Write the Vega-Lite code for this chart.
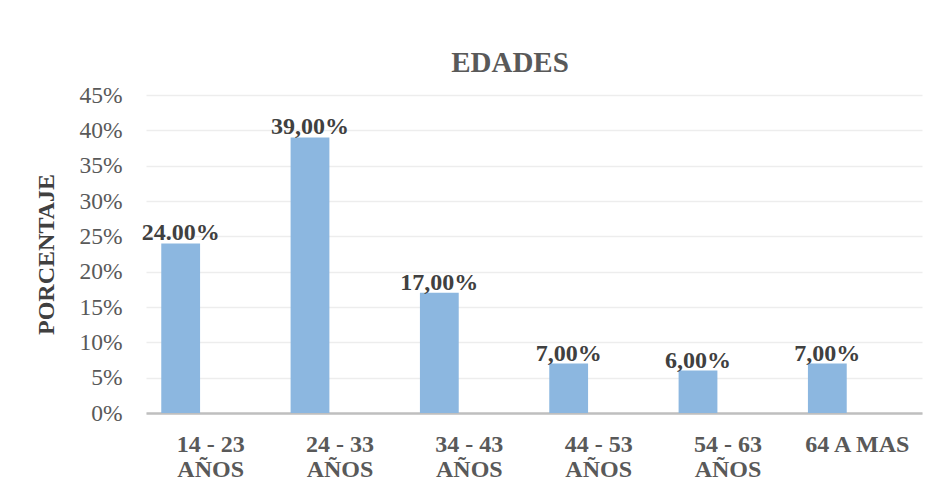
{
  "$schema": "https://vega.github.io/schema/vega-lite/v6.json",
  "width": 776,
  "height": 318,
  "autosize": {"type": "none"},
  "padding": {"left": 146, "top": 95, "right": 14, "bottom": 88},
  "background": "white",
  "config": {"view": {"stroke": null}, "font": "Liberation Serif"},
  "title": {
    "text": "EDADES",
    "font": "Liberation Serif",
    "fontSize": 29,
    "fontWeight": "bold",
    "color": "#595959",
    "anchor": "middle",
    "dx": -24,
    "offset": 5
  },
  "data": {
    "values": [
      {"grupo": "14 - 23 AÑOS", "pct": 24, "etiqueta": "24.00%"},
      {"grupo": "24 - 33 AÑOS", "pct": 39, "etiqueta": "39,00%"},
      {"grupo": "34 - 43 AÑOS", "pct": 17, "etiqueta": "17,00%"},
      {"grupo": "44 - 53 AÑOS", "pct": 7, "etiqueta": "7,00%"},
      {"grupo": "54 - 63 AÑOS", "pct": 6, "etiqueta": "6,00%"},
      {"grupo": "64 A MAS", "pct": 7, "etiqueta": "7,00%"}
    ]
  },
  "encoding": {
    "x": {
      "field": "grupo",
      "type": "nominal",
      "sort": null,
      "scale": {"paddingInner": 0, "paddingOuter": 0},
      "axis": {
        "title": null,
        "labelAngle": 0,
        "labelFont": "Liberation Serif",
        "labelFontSize": 24,
        "labelFontWeight": "bold",
        "labelColor": "#595959",
        "labelPadding": 19,
        "labelLineHeight": 25,
        "labelBaseline": "top",
        "labelExpr": "indexof(datum.label,'AÑOS')>0 ? [replace(datum.label,' AÑOS',''),'AÑOS'] : datum.label",
        "ticks": false,
        "domainColor": "#bfbfbf",
        "domainWidth": 2.5,
        "grid": false
      }
    },
    "y": {
      "field": "pct",
      "type": "quantitative",
      "scale": {"domain": [0, 45]},
      "axis": {
        "title": "PORCENTAJE",
        "titleFont": "Liberation Serif",
        "titleFontSize": 24,
        "titleFontWeight": "bold",
        "titleColor": "#404040",
        "titlePadding": 20,
        "values": [0, 5, 10, 15, 20, 25, 30, 35, 40, 45],
        "labelExpr": "datum.value + '%'",
        "labelFont": "Liberation Serif",
        "labelFontSize": 23.5,
        "labelColor": "#595959",
        "labelPadding": 24,
        "ticks": false,
        "domain": false,
        "gridColor": "#ededed",
        "gridWidth": 1.5
      }
    }
  },
  "layer": [
    {
      "mark": {"type": "bar", "color": "#8cb7e0", "width": {"band": 0.3}, "xOffset": -30}
    },
    {
      "mark": {
        "type": "text",
        "xOffset": -30,
        "dy": -3,
        "baseline": "alphabetic",
        "font": "Liberation Serif",
        "fontSize": 24,
        "fontWeight": "bold",
        "color": "#404040"
      },
      "encoding": {"text": {"field": "etiqueta"}}
    }
  ]
}
